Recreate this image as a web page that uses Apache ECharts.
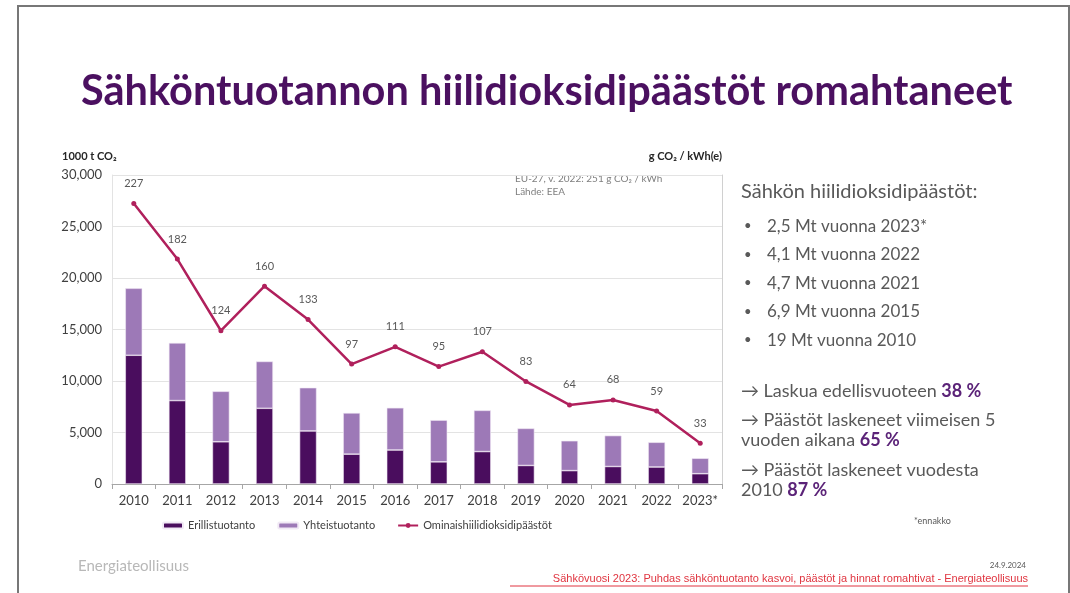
<!DOCTYPE html>
<html>
<head>
<meta charset="utf-8">
<script src="https://cdn.jsdelivr.net/npm/echarts@6/dist/echarts.min.js"></script>
<style>
  html, body { margin: 0; padding: 0; background: #fff; }
  #main { width: 1070px; height: 593px; }
</style>
</head>
<body>
<div id="main"></div>
<script>
// data
var years = ['2010','2011','2012','2013','2014','2015','2016','2017','2018','2019','2020','2021','2022','2023*'];
var erillis = [12500, 8100, 4100, 7350, 5150, 2900, 3300, 2150, 3150, 1800, 1300, 1700, 1650, 1000];
var yhteis = [6500, 5600, 4900, 4550, 4200, 4000, 4100, 4050, 4000, 3600, 2900, 3000, 2400, 1500];
var ominais = [227, 182, 124, 160, 133, 97, 111, 95, 107, 83, 64, 68, 59, 33];
var leftTicks = [0, 5000, 10000, 15000, 20000, 25000, 30000];

var myChart = echarts.init(document.getElementById('main'));
var font = 'Lato, "Open Sans", sans-serif';
var txt = '#404040';
var side = '#595959';
var purple = '#5b2378';

function note(top, rows) {
    return { type: 'text', left: 741, top: top,
        style: {
            text: rows,
            rich: {
                n: { fontSize: 18, fill: side, fontFamily: font, lineHeight: 20 },
                b: { fontSize: 18, fill: purple, fontWeight: 'bold', fontFamily: font, lineHeight: 20 }
            }
        } };
}

var option = {
    backgroundColor: '#fff',
    textStyle: { fontFamily: font },
    animation: false,
    title: {
        text: 'Sähköntuotannon hiilidioksidipäästöt romahtaneet',
        left: 76,
        top: 66,
        textStyle: { color: '#4b1060', fontSize: 41.5, fontWeight: 'bold', fontFamily: font }
    },
    legend: {
        left: 157,
        top: 515,
        itemWidth: 20,
        itemHeight: 6,
        itemGap: 22,
        textStyle: { fontSize: 11, color: txt },
        data: ['Erillistuotanto', 'Yhteistuotanto', 'Ominaishiilidioksidipäästöt']
    },
    grid: { left: 112, right: 348, top: 175, bottom: 109 },
    xAxis: {
        type: 'category',
        data: years,
        axisLine: { lineStyle: { color: '#a6a6a6' } },
        axisTick: { show: true, lineStyle: { color: '#a6a6a6' } },
        axisLabel: { color: txt, fontSize: 13, margin: 10, interval: 0 }
    },
    yAxis: [
        {
            type: 'value',
            min: leftTicks[0],
            max: leftTicks[leftTicks.length - 1],
            interval: 5000,
            axisLabel: {
                color: txt, fontSize: 13, margin: 10,
                formatter: function (v) { return v.toLocaleString('en-US'); }
            },
            splitLine: { lineStyle: { color: '#e3e3e3' } },
            axisLine: { show: true, lineStyle: { color: '#e3e3e3' } },
            axisTick: { show: false }
        },
        {
            type: 'value',
            min: 0,
            max: 250,
            interval: 50,
            axisLabel: { show: false },
            splitLine: { show: false },
            axisTick: { show: false },
            axisLine: { show: true, lineStyle: { color: '#d0d0d0' } }
        }
    ],
    series: [
        {
            name: 'Erillistuotanto',
            type: 'bar',
            stack: 'co2',
            barWidth: 17,
            data: erillis,
            itemStyle: { color: '#4a0d5e', borderColor: '#f1e9f5', borderWidth: 0.6 }
        },
        {
            name: 'Yhteistuotanto',
            type: 'bar',
            stack: 'co2',
            barWidth: 17,
            data: yhteis,
            itemStyle: { color: '#9d79b7', borderColor: '#f1e9f5', borderWidth: 0.6 }
        },
        {
            name: 'Ominaishiilidioksidipäästöt',
            type: 'line',
            yAxisIndex: 1,
            data: ominais,
            symbol: 'circle',
            symbolSize: 5,
            lineStyle: { color: '#b0205c', width: 2.5 },
            itemStyle: { color: '#b0205c' },
            label: { show: true, position: 'top', distance: 12, color: '#595959', fontSize: 11 }
        }
    ],
    graphic: [
        // slide frame
        { type: 'rect', shape: { x: 18, y: 6, width: 1051, height: 600 },
          style: { fill: 'none', stroke: '#777', lineWidth: 2 }, silent: true },
        { type: 'text', left: 62, top: 151,
          style: { text: '1000 t CO₂', font: 'bold 11px ' + font, fill: '#262626' } },
        { type: 'text', right: 348, top: 151,
          style: { text: 'g CO₂ / kWh(e)', font: 'bold 11px ' + font, fill: '#262626' } },
        { type: 'text', left: 515, top: 172,
          style: { text: 'EU-27, v. 2022: 251 g CO₂ / kWh\nLähde: EEA', font: '10px ' + font, fill: '#7f7f7f', lineHeight: 13 } },
        { type: 'text', left: 914, top: 517,
          style: { text: '*ennakko', font: '9px ' + font, fill: '#595959' } },
        // side notes
        { type: 'text', left: 741, top: 182,
          style: { text: 'Sähkön hiilidioksidipäästöt:', font: '20px ' + font, fill: side } },
        { type: 'text', left: 744, top: 212,
          style: { text: '•\n•\n•\n•\n•', font: '13px ' + font, fill: side, lineHeight: 28.5 } },
        { type: 'text', left: 767, top: 212,
          style: { text: '2,5 Mt vuonna 2023*\n4,1 Mt vuonna 2022\n4,7 Mt vuonna 2021\n6,9 Mt vuonna 2015\n19 Mt vuonna 2010',
                   font: '17px ' + font, fill: side, lineHeight: 28.5 } },
        note(382, '{n|→ Laskua edellisvuoteen }{b|38 %}'),
        note(411, '{n|→ Päästöt laskeneet viimeisen 5}\n{n|vuoden aikana }{b|65 %}'),
        note(461, '{n|→ Päästöt laskeneet vuodesta}\n{n|2010 }{b|87 %}'),
        // footer
        { type: 'text', left: 78, top: 559,
          style: { text: 'Energiateollisuus', font: '15px ' + font, fill: '#b8b8b8' } },
        { type: 'text', right: 44, top: 561,
          style: { text: '24.9.2024', font: '8px ' + font, fill: '#595959' } },
        { type: 'text', right: 42, top: 573,
          style: { text: 'Sähkövuosi 2023: Puhdas sähköntuotanto kasvoi, päästöt ja hinnat romahtivat - Energiateollisuus',
                   font: '11px "Liberation Sans Narrow", "Liberation Sans", sans-serif', fill: '#e03540' } },
        { type: 'line', shape: { x1: 510, y1: 586, x2: 1028, y2: 586 },
          style: { stroke: '#e03540', lineWidth: 1 } }
    ]
};
myChart.setOption(option);
</script>
</body>
</html>
